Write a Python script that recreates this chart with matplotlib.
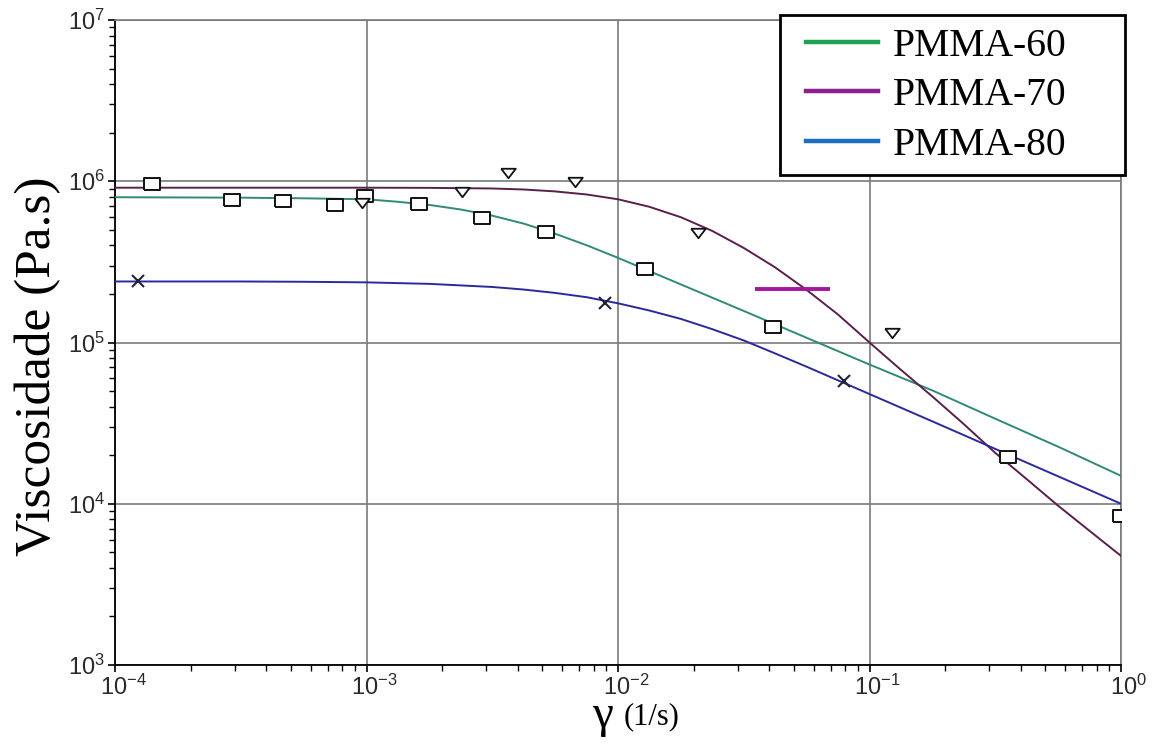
import matplotlib
matplotlib.use("Agg")
import matplotlib.pyplot as plt
import matplotlib.transforms as mtransforms
from matplotlib.lines import Line2D
from matplotlib.patches import Rectangle
from matplotlib.ticker import LogLocator

# ---------------- data ----------------
labels = ["PMMA-60", "PMMA-70", "PMMA-80"]

# fitted curves
pmma60_curve_x = [1e-4, 3.16e-4, 5.62e-4, 1e-3, 1.33e-3, 1.78e-3, 2.37e-3, 3.16e-3,
                  4.22e-3, 5.62e-3, 7.50e-3, 1e-2, 1.78e-2, 3.16e-2, 5.62e-2,
                  1e-1, 1.78e-1, 3.16e-1, 5.62e-1, 1.0]
pmma60_curve_y = [7.96e5, 7.91e5, 7.84e5, 7.73e5, 7.46e5, 7.13e5, 6.68e5, 6.12e5,
                  5.46e5, 4.73e5, 4.01e5, 3.35e5, 2.29e5, 1.57e5, 1.07e5,
                  7.30e4, 5.04e4, 3.37e4, 2.26e4, 1.49e4]

pmma70_curve_x = [1e-4, 3.16e-4, 1e-3, 1.78e-3, 3.16e-3, 4.22e-3, 5.62e-3, 7.50e-3,
                  1e-2, 1.33e-2, 1.78e-2, 2.37e-2, 3.16e-2, 4.22e-2, 5.62e-2,
                  7.50e-2, 1e-1, 1.33e-1, 1.78e-1, 2.37e-1, 3.16e-1, 4.22e-1,
                  5.62e-1, 7.50e-1, 1.0]
pmma70_curve_y = [9.12e5, 9.12e5, 9.12e5, 9.10e5, 9.02e5, 8.89e5, 8.65e5, 8.28e5,
                  7.73e5, 6.95e5, 5.98e5, 4.92e5, 3.86e5, 2.92e5, 2.12e5,
                  1.49e5, 1.0e5, 6.79e4, 4.62e4, 3.12e4, 2.07e4, 1.42e4,
                  9.73e3, 6.79e3, 4.75e3]

pmma80_curve_x = [1e-4, 3.16e-4, 5.62e-4, 1e-3, 1.78e-3, 3.16e-3, 4.22e-3, 5.62e-3,
                  7.50e-3, 1e-2, 1.33e-2, 1.78e-2, 2.37e-2, 3.16e-2, 4.22e-2,
                  5.62e-2, 7.50e-2, 1e-1, 1.78e-1, 3.16e-1, 5.62e-1, 1.0]
pmma80_curve_y = [2.39e5, 2.39e5, 2.38e5, 2.36e5, 2.31e5, 2.21e5, 2.13e5, 2.03e5,
                  1.91e5, 1.75e5, 1.58e5, 1.40e5, 1.21e5, 1.03e5, 8.55e4,
                  7.08e4, 5.82e4, 4.79e4, 3.24e4, 2.19e4, 1.48e4, 1.0e4]

# measured points
pmma60_pts_x = [1.40e-4, 2.92e-4, 4.66e-4, 7.5e-4, 9.9e-4, 1.62e-3, 2.88e-3,
                5.18e-3, 1.28e-2, 4.13e-2, 0.356, 1.0]
pmma60_pts_y = [9.6e5, 7.7e5, 7.5e5, 7.1e5, 8.07e5, 7.2e5, 5.9e5,
                4.82e5, 2.84e5, 1.24e5, 1.96e4, 8.4e3]

pmma70_pts_x = [9.6e-4, 2.40e-3, 3.66e-3, 6.75e-3, 2.08e-2, 0.123]
pmma70_pts_y = [7.3e5, 8.55e5, 1.12e6, 9.9e5, 4.8e5, 1.15e5]

pmma80_pts_x = [1.23e-4, 8.87e-3, 7.93e-2]
pmma80_pts_y = [2.39e5, 1.75e5, 5.8e4]

# stray magenta segment
seg_x = [3.51e-2, 6.97e-2]
seg_y = [2.16e5, 2.16e5]

x_ticks = [1e-4, 1e-3, 1e-2, 1e-1, 1e0]
x_tick_labels = ["-4", "-3", "-2", "-1", "0"]
y_ticks = [1e3, 1e4, 1e5, 1e6, 1e7]
y_tick_labels = ["3", "4", "5", "6", "7"]

curve_colors = ["#2f8a78", "#5a1f4c", "#2a2a9e"]
legend_colors = ["#1fa352", "#8e1f8e", "#1c6fc0"]

W, H = 1159, 744

# ---------------- figure ----------------
fig = plt.figure(figsize=(W / 100, H / 100), dpi=100)
ax = fig.add_axes([115 / W, 1 - 665 / H, (1121 - 115) / W, (665 - 20) / H])
ax.set_xscale("log")
ax.set_yscale("log")
ax.set_xlim(1e-4, 1.0)
ax.set_ylim(1e3, 1e7)

ax.grid(True, which="major", color="#7a7a7a", linewidth=1.2)
ax.set_axisbelow(True)

ax.plot(pmma60_curve_x, pmma60_curve_y, color=curve_colors[0], lw=1.4, zorder=3)
ax.plot(pmma70_curve_x, pmma70_curve_y, color=curve_colors[1], lw=1.4, zorder=3)
ax.plot(pmma80_curve_x, pmma80_curve_y, color=curve_colors[2], lw=1.4, zorder=3)

ax.plot(seg_x, seg_y, color="#a3179f", lw=2.8, solid_capstyle="butt", zorder=4)

rect = [(-1.45, -1), (1.45, -1), (1.45, 1), (-1.45, 1), (-1.45, -1)]
tri = [(-1, 0.65), (1, 0.65), (0, -0.65), (-1, 0.65)]
ax.plot(pmma60_pts_x, pmma60_pts_y, ls="none", marker=rect, ms=12, mfc="white",
        mec="#111111", mew=1.4, zorder=5)
ax.plot(pmma70_pts_x, pmma70_pts_y, ls="none", marker=tri, ms=10.5, mfc="white",
        mec="#111111", mew=1.3, zorder=5)
ax.plot(pmma80_pts_x, pmma80_pts_y, ls="none", marker="x", ms=9, mec="#222233",
        mew=1.5, zorder=5)

# spines
for s in ["top", "right"]:
    ax.spines[s].set_color("#7a7a7a")
    ax.spines[s].set_linewidth(1.2)
for s in ["left", "bottom"]:
    ax.spines[s].set_color("black")
    ax.spines[s].set_linewidth(1.3)

# ticks
ax.set_xticks(x_ticks)
ax.set_xticklabels([r"$\mathregular{10^{%s}}$" % e for e in x_tick_labels])
ax.set_yticks(y_ticks)
ax.set_yticklabels([r"$\mathregular{10^{%s}}$" % e for e in y_tick_labels])
ax.xaxis.set_minor_locator(LogLocator(base=10, subs=range(2, 10), numticks=20))
ax.yaxis.set_minor_locator(LogLocator(base=10, subs=range(2, 10), numticks=20))
ax.tick_params(which="major", direction="out", length=5, width=1.2, color="black",
               labelsize=17, labelcolor="#2a2a2a", pad=2)
ax.tick_params(which="minor", direction="out", length=4, width=1.0, color="black")
shift = mtransforms.ScaledTranslation(8 / 100, 0, fig.dpi_scale_trans)
for lab in ax.get_xticklabels():
    lab.set_family("Liberation Sans")
    lab.set_transform(lab.get_transform() + shift)
for lab in ax.get_yticklabels():
    lab.set_family("Liberation Sans")

# axis labels
fig.text(38 / W, 1 - 366 / H, "Viscosidade (Pa.s)", rotation=90,
         ha="center", va="center", fontsize=37, family="Liberation Serif")
fig.text(613 / W, 1 - 716 / H, "γ", ha="right", va="center", fontsize=34,
         family="Liberation Serif")
fig.text(624 / W, 1 - 717 / H, "(1/s)", ha="left", va="center", fontsize=22,
         family="Liberation Serif")

# legend (frame drawn separately)
frame = Rectangle((780 / W, 1 - 175 / H), (1125 - 780) / W, (175 - 15) / H,
                  transform=fig.transFigure, facecolor="white", edgecolor="black",
                  linewidth=2.0, zorder=10)
fig.patches.append(frame)
handles = [Line2D([0], [0], color=c, lw=3.2) for c in legend_colors]
leg = fig.legend(handles, labels, loc="upper left",
                 bbox_to_anchor=(806 / W, 1 - 28 / H), borderaxespad=0,
                 prop={"family": "Liberation Serif", "size": 28.5},
                 frameon=False, handlelength=1.82, handletextpad=0.38,
                 labelspacing=0.31, borderpad=0)
leg.set_zorder(11)

fig.savefig("out.png", dpi=100)
